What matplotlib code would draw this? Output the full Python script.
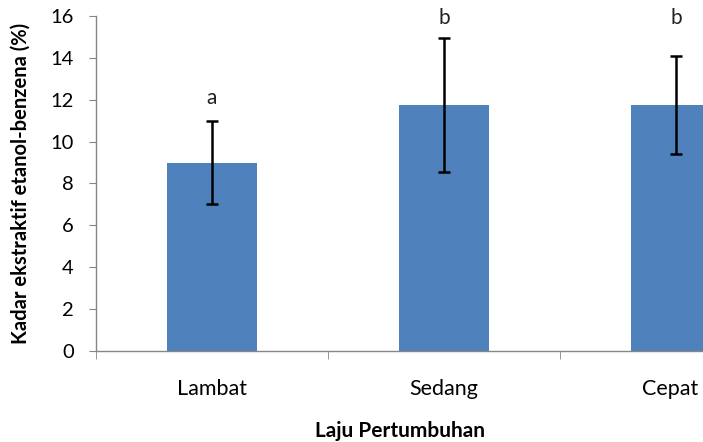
import numpy as np
import matplotlib.pyplot as plt
from matplotlib.transforms import ScaledTranslation

plt.rcParams['font.family'] = ['Lato', 'DejaVu Sans']

kategori = ['Lambat', 'Sedang', 'Cepat']
kadar = [9.0, 11.75, 11.75]
galat = [2.0, 3.2, 2.35]
huruf = ['a', 'b', 'b']
huruf_y = [12.1, 15.9, 15.9]

x = np.arange(len(kategori))

fig = plt.figure(figsize=(7.03, 4.42), dpi=100)
ax = fig.add_axes([0.1366, 0.2059, 0.8634, 0.758])

ax.bar(x, kadar, 0.39, color='#4F81BD', zorder=2)
ax.errorbar(x, kadar, yerr=galat, fmt='none', ecolor='black',
            elinewidth=1.8, capsize=4, capthick=1.8, zorder=3)

for xi, h, hy in zip(x, huruf, huruf_y):
    ax.text(xi, hy, h, ha='center', va='center', fontsize=15, color='#222222')

ax.set_xlim(-0.5, 2.116)
ax.set_ylim(0, 16)
ax.set_yticks(np.arange(0, 17, 2))
ax.set_xticks(x)
ax.set_xticklabels(kategori)
ax.set_xticks([-0.5, 0.5, 1.5], minor=True)

for s in ['top', 'right']:
    ax.spines[s].set_visible(False)
for s in ['left', 'bottom']:
    ax.spines[s].set_color('#868686')
    ax.spines[s].set_linewidth(1.0)

ax.tick_params(axis='y', length=5, color='#868686', labelsize=14.5, pad=11)
ax.tick_params(axis='x', which='major', length=0, labelsize=15.5, pad=20)
ax.tick_params(axis='x', which='minor', length=6, color='#868686')

# label terakhir digeser sedikit ke kiri supaya tidak terpotong
lbl = ax.get_xticklabels()[-1]
lbl.set_transform(lbl.get_transform() + ScaledTranslation(-4 / 72, 0, fig.dpi_scale_trans))

ax.set_ylabel('Kadar ekstraktif etanol-benzena (%)', fontsize=14.5,
              fontweight='bold', labelpad=14)
ax.set_xlabel('Laju Pertumbuhan', fontsize=15, fontweight='bold', labelpad=16)

fig.savefig('out.png', dpi=100)
